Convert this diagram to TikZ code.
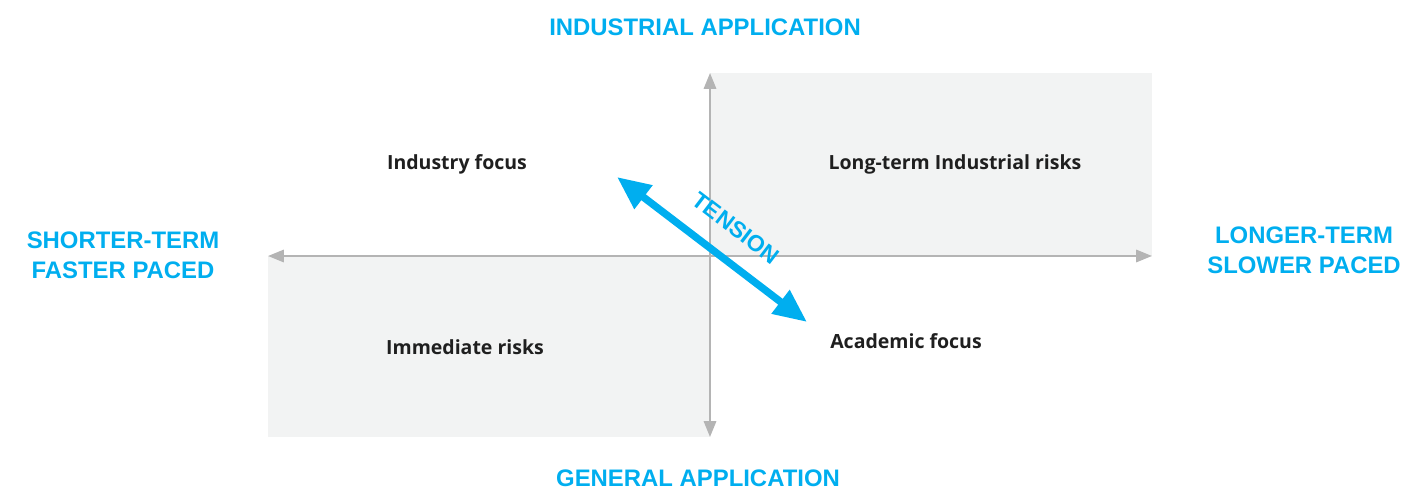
\documentclass[tikz,border=0pt]{standalone}
\usepackage{fontspec}
\setmainfont{Liberation Sans}
\newfontfamily\labfont{Open Sans}
\usetikzlibrary{arrows.meta}
\definecolor{tblue}{RGB}{0,174,239}
\definecolor{axgray}{RGB}{180,180,180}
\definecolor{boxgray}{RGB}{242,243,243}
\tikzset{
  axis/.style={draw=axgray, line width=1.2pt, -{Triangle[length=9pt,width=7pt]}},
  quad/.style={fill=boxgray, draw=none},
  biglab/.style={text=tblue, font=\fontsize{13.6}{17}\selectfont\bfseries, align=center, inner sep=1pt},
  smalllab/.style={text=black!88, font=\labfont\fontsize{11.1}{13}\selectfont\bfseries},
}
\begin{document}
\begin{tikzpicture}[x=0.02cm,y=-0.02cm]
\useasboundingbox (0,0) rectangle (1405,490);
\fill[quad] (710,73) rectangle (1152,256);
\fill[quad] (268,256) rectangle (710,437);
\coordinate (c) at (710,256);
\coordinate (l) at (268,256);
\coordinate (r) at (1152,256);
\coordinate (t) at (710,73);
\coordinate (b) at (710,437);
\draw[axis] (c) -- (l);
\draw[axis] (c) -- (r);
\draw[axis] (c) -- (t);
\draw[axis] (c) -- (b);
\coordinate (ta) at (617,177);
\coordinate (tb) at (807,322);
\draw[tblue, line width=4.2pt, {Triangle[length=19pt,width=16pt]}-{Triangle[length=19pt,width=16pt]}] (ta) -- (tb);
\node[biglab, rotate=-37.4, font=\fontsize{13}{15}\selectfont\bfseries, inner sep=0pt] (tension) at (736,228) {TENSION};
\node[biglab] (top) at (705,27) {INDUSTRIAL APPLICATION};
\node[biglab] (bot) at (698,478) {GENERAL APPLICATION};
\node[biglab] (left) at (123,255) {SHORTER-TERM\\FASTER PACED};
\node[biglab] (right) at (1304,250) {LONGER-TERM\\SLOWER PACED};
\node[smalllab] (q1) at (457,164) {Industry focus};
\node[smalllab] (q2) at (955,164) {Long-term Industrial risks};
\node[smalllab] (q3) at (465,347) {Immediate risks};
\node[smalllab] (q4) at (906,341) {Academic focus};
\end{tikzpicture}
\end{document}
